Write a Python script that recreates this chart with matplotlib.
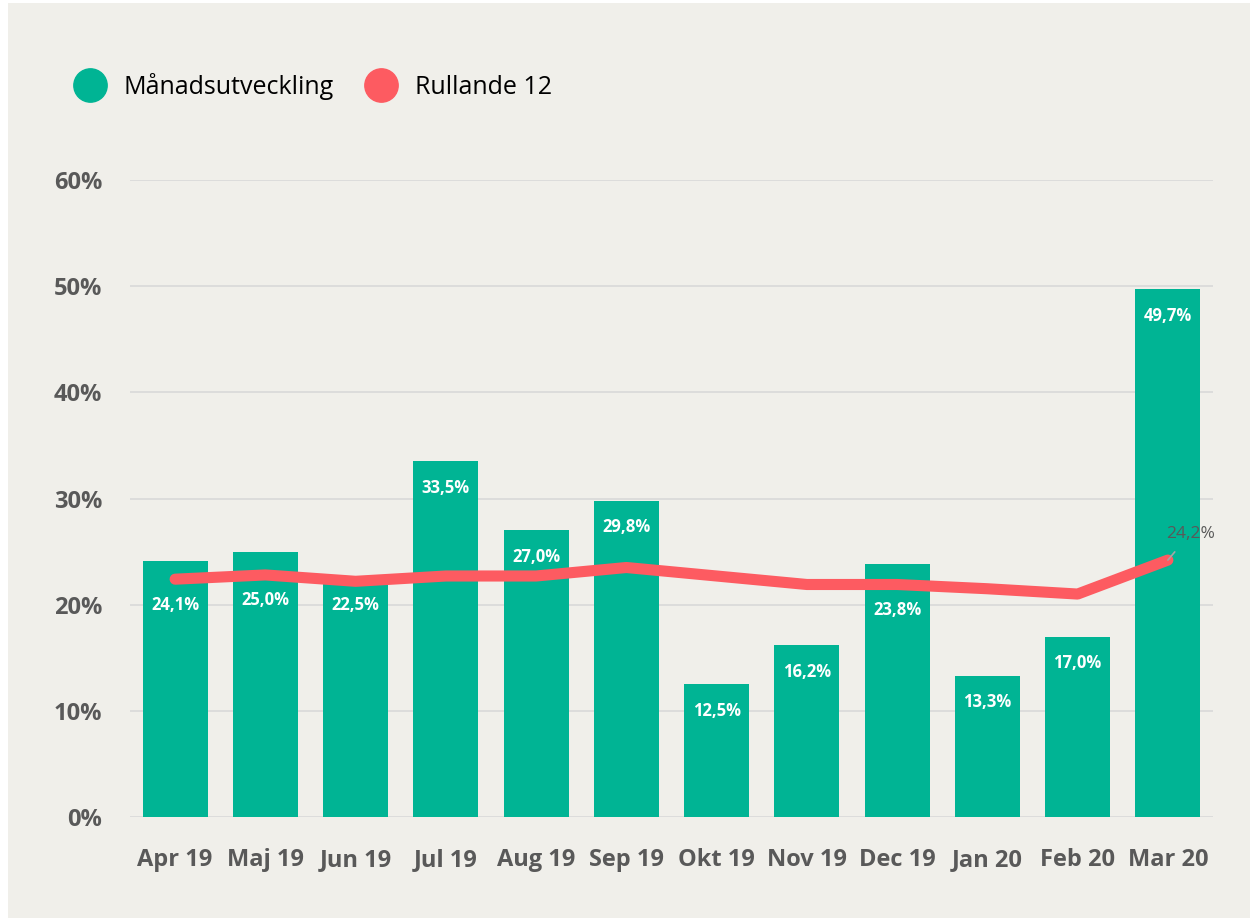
import matplotlib.pyplot as plt
from matplotlib.lines import Line2D
from matplotlib.patches import Rectangle
import numpy as np

# Data
manader = ['Apr 19', 'Maj 19', 'Jun 19', 'Jul 19', 'Aug 19', 'Sep 19',
           'Okt 19', 'Nov 19', 'Dec 19', 'Jan 20', 'Feb 20', 'Mar 20']
manadsutveckling = [24.1, 25.0, 22.5, 33.5, 27.0, 29.8, 12.5, 16.2, 23.8, 13.3, 17.0, 49.7]
rullande12 = [22.4, 22.8, 22.2, 22.7, 22.7, 23.5, 22.7, 21.9, 21.9, 21.5, 21.0, 24.2]
y_ticks = [0, 10, 20, 30, 40, 50, 60]

teal = '#00b494'
red = '#fd5b61'
bg = '#f0efea'
grey = '#595959'

plt.rcParams['font.family'] = ['Open Sans', 'DejaVu Sans']

fig = plt.figure(figsize=(12.5, 9.23), dpi=100, facecolor='white')
fig.patches.append(Rectangle((8 / 1250, 0.005), 1 - 8 / 1250, 0.992,
                             transform=fig.transFigure, facecolor=bg,
                             edgecolor='none', zorder=-10))

ax = fig.add_axes([130 / 1250, 1 - 817 / 923, (1213 - 130) / 1250, (817 - 180) / 923])
ax.set_facecolor(bg)

x = np.arange(len(manader))
ax.bar(x, manadsutveckling, width=0.72, color=teal, zorder=2)
ax.plot(x, rullande12, color=red, lw=8, solid_capstyle='round',
        solid_joinstyle='round', zorder=3)

# Etiketter i staplarna
for i, (v, r) in enumerate(zip(manadsutveckling, rullande12)):
    ly = v - 2.5
    if abs(ly - r) < 1.2:
        ly = r - 2.4
    ax.text(i, ly, f'{v:.1f}%'.replace('.', ','), ha='center', va='center',
            color='white', fontsize=12, fontweight='bold', zorder=4)

# Etikett för sista värdet på linjen
ax.annotate(f'{rullande12[-1]:.1f}%'.replace('.', ','), xy=(x[-1], rullande12[-1]),
            xytext=(16, 19), textcoords='offset points', ha='center', va='center',
            color=grey, fontsize=12.5,
            arrowprops=dict(arrowstyle='-', color='#a6a6a6', lw=1.2,
                            shrinkA=7, shrinkB=0), zorder=5)

ax.set_xlim(-0.5, len(manader) - 0.5)
ax.set_ylim(0, 60)
ax.set_yticks(y_ticks)
ax.set_yticklabels([f'{t}%' for t in y_ticks])
ax.set_xticks(x)
ax.set_xticklabels(manader)
ax.tick_params(axis='both', length=0, labelsize=17, labelcolor=grey)
ax.tick_params(axis='x', pad=22)
ax.tick_params(axis='y', pad=20)
for lab in ax.get_xticklabels() + ax.get_yticklabels():
    lab.set_fontweight('bold')

ax.grid(axis='y', color='#d9d9d9', lw=1.2, zorder=0)
ax.set_axisbelow(True)
for s in ax.spines.values():
    s.set_visible(False)

handles = [Line2D([], [], ls='none', marker='o', markersize=24, color=teal),
           Line2D([], [], ls='none', marker='o', markersize=24, color=red)]
fig.legend(handles, ['Månadsutveckling', 'Rullande 12'], loc='center left',
           bbox_to_anchor=(52 / 1250, 1 - 86 / 923), ncol=2, frameon=False,
           fontsize=18, handletextpad=0.75, columnspacing=1.3, handlelength=1.2)

fig.savefig('out.png', dpi=100, facecolor='white')
